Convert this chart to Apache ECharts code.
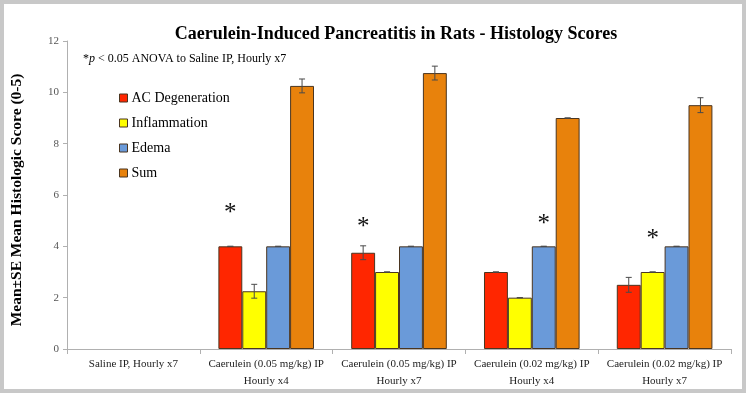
<!DOCTYPE html>
<html><head><meta charset="utf-8">
<script src="https://cdn.jsdelivr.net/npm/echarts@6/dist/echarts.min.js"></script>
<style>html,body{margin:0;padding:0;background:#fff}#c{width:746px;height:393px}</style>
</head><body><div id="c"></div>
<script>
var categories = ['Saline IP, Hourly x7','Caerulein (0.05 mg/kg) IP\nHourly x4','Caerulein (0.05 mg/kg) IP\nHourly x7','Caerulein (0.02 mg/kg) IP\nHourly x4','Caerulein (0.02 mg/kg) IP\nHourly x7'];
var seriesNames = ['AC Degeneration','Inflammation','Edema','Sum'];
var acDegeneration = [0, 4, 3.75, 3, 2.5];
var inflammation   = [0, 2.25, 3, 2, 3];
var edema          = [0, 4, 4, 4, 4];
var sumScore       = [0, 10.25, 10.75, 9, 9.5];
var acErr   = [0, 0, 0.27, 0, 0.29];
var inflErr = [0, 0.27, 0, 0, 0];
var edemaErr= [0, 0, 0, 0, 0];
var sumErr  = [0, 0.27, 0.27, 0, 0.29];
// which series index carries the significance asterisk for each category (-1 = none)
var starSeries = [-1, 0, 0, 2, 1];
var starDistance = [0, 20, 13, 9, 20];
var yTicks = [0, 2, 4, 6, 8, 10, 12];
var yAxisTitle = 'Mean±SE Mean Histologic Score (0-5)';

var values = [acDegeneration, inflammation, edema, sumScore];
var errors = [acErr, inflErr, edemaErr, sumErr];
var colors = ['#ff2600', '#ffff00', '#6a9ad9', '#e8820c'];
var serif = '"Liberation Serif", "DejaVu Serif", serif';
var catGap = 0.28;

var chart = echarts.init(document.getElementById('c'));
var series = [];
values.forEach(function (vals, si) {
  series.push({
    name: seriesNames[si], type: 'bar', barGap: '0%', barCategoryGap: (catGap*100)+'%',
    itemStyle: { color: colors[si], borderColor: '#4a3520', borderWidth: 1 },
    data: vals.map(function (v, ci) {
      var d = { value: v };
      if (!v) d.itemStyle = { borderWidth: 0 };
      if (starSeries[ci] === si) {
        d.label = { show: true, position: 'top', formatter: '*', distance: starDistance[ci],
          fontSize: 25, color: '#111', fontFamily: serif };
      }
      return d;
    })
  });
});
errors.forEach(function (errs, si) {
  series.push({
    type: 'custom', silent: true, z: 5,
    data: errs.map(function (e, ci) { return [ci, values[si][ci], e]; }),
    renderItem: function (params, api) {
      var ci = api.value(0), v = api.value(1), e = api.value(2);
      if (!v) return;
      var band = api.size([1, 0])[0];
      var bw = band * (1 - catGap) / 4;
      var base = api.coord([ci, v]);
      var x = base[0] - band * (1 - catGap) / 2 + bw * (si + 0.5);
      var yt = api.coord([ci, v + e])[1], yb = api.coord([ci, v - e])[1];
      var st = { stroke: '#4a4a4a', lineWidth: 1 };
      return { type: 'group', children: [
        { type: 'line', shape: { x1: x, y1: yt, x2: x, y2: yb }, style: st },
        { type: 'line', shape: { x1: x - 3, y1: yt, x2: x + 3, y2: yt }, style: st },
        { type: 'line', shape: { x1: x - 3, y1: yb, x2: x + 3, y2: yb }, style: st }
      ]};
    }
  });
});

chart.setOption({
  animation: false,
  backgroundColor: '#ffffff',
  title: [{
    text: 'Caerulein-Induced Pancreatitis in Rats - Histology Scores',
    left: 391, top: 20, textAlign: 'center',
    textStyle: { fontFamily: serif, fontWeight: 'bold', fontSize: 18, color: '#000' }
  }],
  graphic: [
    { type: 'rect', shape: { x: 2, y: 2, width: 742, height: 389 }, style: { fill: 'none', stroke: '#c8c8c8', lineWidth: 4 }, silent: true },
    { type: 'text', left: 83, top: 53, style: {
      text: '{n|*}{i|p}{n| < 0.05 ANOVA to Saline IP, Hourly x7}',
      rich: { n: { fontFamily: serif, fontSize: 12, fill: '#000' }, i: { fontFamily: serif, fontSize: 12, fontStyle: 'italic', fill: '#000' } } } },
    { type: 'text', x: 17, y: 200, rotation: Math.PI / 2, style: {
      text: yAxisTitle, fontFamily: serif, fontWeight: 'bold', fontSize: 15.5, fill: '#000',
      align: 'center', verticalAlign: 'middle' } }
  ],
  legend: {
    data: seriesNames, orient: 'vertical', left: 114, top: 86, itemGap: 11,
    itemWidth: 8, itemHeight: 8, icon: 'rect',
    itemStyle: { borderColor: '#4a3520', borderWidth: 1 },
    textStyle: { fontFamily: serif, fontSize: 14, color: '#000', padding: [0, 0, 0, -1] }
  },
  grid: { left: 67, right: 15, top: 41, bottom: 44 },
  xAxis: {
    type: 'category', data: categories,
    axisLine: { lineStyle: { color: '#b0b0b0' } },
    axisTick: { show: true, length: 5, lineStyle: { color: '#b0b0b0' } },
    axisLabel: { fontFamily: serif, fontSize: 11, color: '#222', lineHeight: 17, margin: 7, interval: 0 }
  },
  yAxis: {
    type: 'value', min: yTicks[0], max: yTicks[yTicks.length - 1], interval: 2,
    axisLine: { show: true, lineStyle: { color: '#b0b0b0' } },
    axisTick: { show: true, length: 4, lineStyle: { color: '#b0b0b0' } },
    splitLine: { show: false },
    axisLabel: { fontFamily: serif, fontSize: 11, color: '#555', margin: 8 }
  },
  series: series
});
</script></body></html>
